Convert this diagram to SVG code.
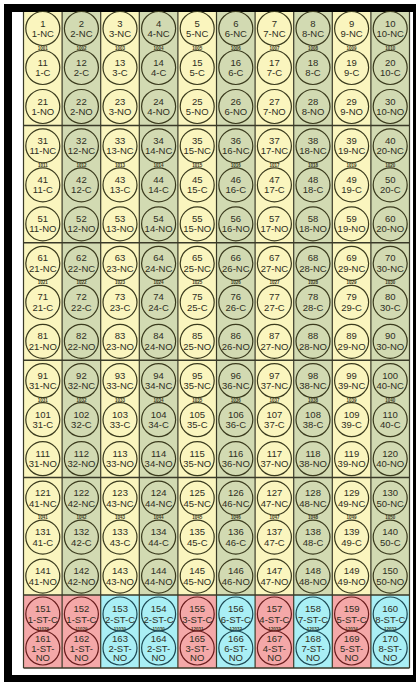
<svg xmlns="http://www.w3.org/2000/svg" width="420" height="684" viewBox="0 0 420 684">
<style>
.n circle{fill:none;stroke:#3b3b1e;stroke-width:1.2}
.n text{font-family:"Liberation Sans",Arial,sans-serif;font-size:9.5px;text-anchor:middle;fill:#2e2e22}
.p circle{stroke:#6a1e1e}
.q circle{stroke:#1e4a55}
.s{font-family:"Liberation Sans",Arial,sans-serif;font-size:4.5px;font-weight:bold;text-anchor:middle;fill:#3a3a22}
.y{fill:#faf5be}
.g{fill:#d2dab2}
.pk{fill:#f4a8a8}
.cy{fill:#a9eff5}
.vl{stroke:#3a3a28;stroke-width:1.2}
.hl{stroke:#3a3a28;stroke-width:1.5}
</style>
<rect x="4" y="4" width="412" height="678" fill="#000"/>
<rect x="12" y="12" width="401" height="663" fill="#fff"/>
<g id="table">
<rect class="y" x="23.5" y="12" width="38.6" height="583"/>
<rect class="g" x="62.1" y="12" width="38.6" height="583"/>
<rect class="y" x="100.7" y="12" width="38.6" height="583"/>
<rect class="g" x="139.3" y="12" width="38.6" height="583"/>
<rect class="y" x="177.9" y="12" width="38.6" height="583"/>
<rect class="g" x="216.5" y="12" width="38.6" height="583"/>
<rect class="y" x="255.1" y="12" width="38.6" height="583"/>
<rect class="g" x="293.7" y="12" width="38.6" height="583"/>
<rect class="y" x="332.3" y="12" width="38.6" height="583"/>
<rect class="g" x="370.9" y="12" width="38.6" height="583"/>
<rect class="pk" x="23.5" y="595" width="77.2" height="73"/>
<rect class="cy" x="100.7" y="595" width="77.2" height="73"/>
<rect class="pk" x="177.9" y="595" width="38.6" height="73"/>
<rect class="cy" x="216.5" y="595" width="38.6" height="73"/>
<rect class="pk" x="255.1" y="595" width="38.6" height="73"/>
<rect class="cy" x="293.7" y="595" width="38.6" height="73"/>
<rect class="pk" x="332.3" y="595" width="38.6" height="73"/>
<rect class="cy" x="370.9" y="595" width="38.6" height="73"/>
<g class="vl">
<line x1="23.5" y1="12" x2="23.5" y2="668"/>
<line x1="62.1" y1="12" x2="62.1" y2="668"/>
<line x1="100.7" y1="12" x2="100.7" y2="668"/>
<line x1="139.3" y1="12" x2="139.3" y2="668"/>
<line x1="177.9" y1="12" x2="177.9" y2="668"/>
<line x1="216.5" y1="12" x2="216.5" y2="668"/>
<line x1="255.1" y1="12" x2="255.1" y2="668"/>
<line x1="293.7" y1="12" x2="293.7" y2="668"/>
<line x1="332.3" y1="12" x2="332.3" y2="668"/>
<line x1="370.9" y1="12" x2="370.9" y2="668"/>
<line x1="409.5" y1="12" x2="409.5" y2="668"/>
</g>
<g class="hl">
<line x1="23.5" y1="125.4" x2="409.5" y2="125.4"/>
<line x1="23.5" y1="242.8" x2="409.5" y2="242.8"/>
<line x1="23.5" y1="360.2" x2="409.5" y2="360.2"/>
<line x1="23.5" y1="477.6" x2="409.5" y2="477.6"/>
<line x1="23.5" y1="595" x2="409.5" y2="595"/>
<line x1="23.5" y1="668" x2="409.5" y2="668"/>
</g>
</g>
<g id="connectors"/>
<g id="codes" class="s">
<text x="42.8" y="49.5">1001</text><text x="81.4" y="49.5">1002</text><text x="120" y="49.5">1003</text><text x="158.6" y="49.5">1004</text><text x="197.2" y="49.5">1005</text><text x="235.8" y="49.5">1006</text><text x="274.4" y="49.5">1007</text><text x="313" y="49.5">1008</text><text x="351.6" y="49.5">1009</text><text x="390.2" y="49.5">1010</text>
<text x="42.8" y="166.9">1011</text><text x="81.4" y="166.9">1012</text><text x="120" y="166.9">1013</text><text x="158.6" y="166.9">1014</text><text x="197.2" y="166.9">1015</text><text x="235.8" y="166.9">1016</text><text x="274.4" y="166.9">1017</text><text x="313" y="166.9">1018</text><text x="351.6" y="166.9">1019</text><text x="390.2" y="166.9">1020</text>
<text x="42.8" y="284.3">1021</text><text x="81.4" y="284.3">1022</text><text x="120" y="284.3">1023</text><text x="158.6" y="284.3">1024</text><text x="197.2" y="284.3">1025</text><text x="235.8" y="284.3">1026</text><text x="274.4" y="284.3">1027</text><text x="313" y="284.3">1028</text><text x="351.6" y="284.3">1029</text><text x="390.2" y="284.3">1030</text>
<text x="42.8" y="401.7">1031</text><text x="81.4" y="401.7">1032</text><text x="120" y="401.7">1033</text><text x="158.6" y="401.7">1034</text><text x="197.2" y="401.7">1035</text><text x="235.8" y="401.7">1036</text><text x="274.4" y="401.7">1037</text><text x="313" y="401.7">1038</text><text x="351.6" y="401.7">1039</text><text x="390.2" y="401.7">1040</text>
<text x="42.8" y="519.1">1041</text><text x="81.4" y="519.1">1042</text><text x="120" y="519.1">1043</text><text x="158.6" y="519.1">1044</text><text x="197.2" y="519.1">1045</text><text x="235.8" y="519.1">1046</text><text x="274.4" y="519.1">1047</text><text x="313" y="519.1">1048</text><text x="351.6" y="519.1">1049</text><text x="390.2" y="519.1">1050</text>
<text x="42.8" y="631.3">11029</text><text x="81.4" y="631.3">11029</text><text x="120" y="631.3">11030</text><text x="158.6" y="631.3">11030</text><text x="197.2" y="631.3">12031</text><text x="235.8" y="631.3">12032</text><text x="274.4" y="631.3">12033</text><text x="313" y="631.3">12032</text><text x="351.6" y="631.3">12034</text><text x="390.2" y="631.3">12032</text>
</g>
<g id="nodes">
<g id="n1" class="n" transform="translate(42.8,28.5)"><circle r="17"/><text y="-2">1</text><text y="8.5">1-NC</text></g>
<g id="n2" class="n" transform="translate(81.4,28.5)"><circle r="17"/><text y="-2">2</text><text y="8.5">2-NC</text></g>
<g id="n3" class="n" transform="translate(120,28.5)"><circle r="17"/><text y="-2">3</text><text y="8.5">3-NC</text></g>
<g id="n4" class="n" transform="translate(158.6,28.5)"><circle r="17"/><text y="-2">4</text><text y="8.5">4-NC</text></g>
<g id="n5" class="n" transform="translate(197.2,28.5)"><circle r="17"/><text y="-2">5</text><text y="8.5">5-NC</text></g>
<g id="n6" class="n" transform="translate(235.8,28.5)"><circle r="17"/><text y="-2">6</text><text y="8.5">6-NC</text></g>
<g id="n7" class="n" transform="translate(274.4,28.5)"><circle r="17"/><text y="-2">7</text><text y="8.5">7-NC</text></g>
<g id="n8" class="n" transform="translate(313,28.5)"><circle r="17"/><text y="-2">8</text><text y="8.5">8-NC</text></g>
<g id="n9" class="n" transform="translate(351.6,28.5)"><circle r="17"/><text y="-2">9</text><text y="8.5">9-NC</text></g>
<g id="n10" class="n" transform="translate(390.2,28.5)"><circle r="17"/><text y="-2">10</text><text y="8.5">10-NC</text></g>
<g id="n11" class="n" transform="translate(42.8,67.5)"><circle r="17"/><text y="-2">11</text><text y="8.5">1-C</text></g>
<g id="n12" class="n" transform="translate(81.4,67.5)"><circle r="17"/><text y="-2">12</text><text y="8.5">2-C</text></g>
<g id="n13" class="n" transform="translate(120,67.5)"><circle r="17"/><text y="-2">13</text><text y="8.5">3-C</text></g>
<g id="n14" class="n" transform="translate(158.6,67.5)"><circle r="17"/><text y="-2">14</text><text y="8.5">4-C</text></g>
<g id="n15" class="n" transform="translate(197.2,67.5)"><circle r="17"/><text y="-2">15</text><text y="8.5">5-C</text></g>
<g id="n16" class="n" transform="translate(235.8,67.5)"><circle r="17"/><text y="-2">16</text><text y="8.5">6-C</text></g>
<g id="n17" class="n" transform="translate(274.4,67.5)"><circle r="17"/><text y="-2">17</text><text y="8.5">7-C</text></g>
<g id="n18" class="n" transform="translate(313,67.5)"><circle r="17"/><text y="-2">18</text><text y="8.5">8-C</text></g>
<g id="n19" class="n" transform="translate(351.6,67.5)"><circle r="17"/><text y="-2">19</text><text y="8.5">9-C</text></g>
<g id="n20" class="n" transform="translate(390.2,67.5)"><circle r="17"/><text y="-2">20</text><text y="8.5">10-C</text></g>
<g id="n21" class="n" transform="translate(42.8,106.5)"><circle r="17"/><text y="-2">21</text><text y="8.5">1-NO</text></g>
<g id="n22" class="n" transform="translate(81.4,106.5)"><circle r="17"/><text y="-2">22</text><text y="8.5">2-NO</text></g>
<g id="n23" class="n" transform="translate(120,106.5)"><circle r="17"/><text y="-2">23</text><text y="8.5">3-NO</text></g>
<g id="n24" class="n" transform="translate(158.6,106.5)"><circle r="17"/><text y="-2">24</text><text y="8.5">4-NO</text></g>
<g id="n25" class="n" transform="translate(197.2,106.5)"><circle r="17"/><text y="-2">25</text><text y="8.5">5-NO</text></g>
<g id="n26" class="n" transform="translate(235.8,106.5)"><circle r="17"/><text y="-2">26</text><text y="8.5">6-NO</text></g>
<g id="n27" class="n" transform="translate(274.4,106.5)"><circle r="17"/><text y="-2">27</text><text y="8.5">7-NO</text></g>
<g id="n28" class="n" transform="translate(313,106.5)"><circle r="17"/><text y="-2">28</text><text y="8.5">8-NO</text></g>
<g id="n29" class="n" transform="translate(351.6,106.5)"><circle r="17"/><text y="-2">29</text><text y="8.5">9-NO</text></g>
<g id="n30" class="n" transform="translate(390.2,106.5)"><circle r="17"/><text y="-2">30</text><text y="8.5">10-NO</text></g>
<g id="n31" class="n" transform="translate(42.8,145.9)"><circle r="17"/><text y="-2">31</text><text y="8.5">11-NC</text></g>
<g id="n32" class="n" transform="translate(81.4,145.9)"><circle r="17"/><text y="-2">32</text><text y="8.5">12-NC</text></g>
<g id="n33" class="n" transform="translate(120,145.9)"><circle r="17"/><text y="-2">33</text><text y="8.5">13-NC</text></g>
<g id="n34" class="n" transform="translate(158.6,145.9)"><circle r="17"/><text y="-2">34</text><text y="8.5">14-NC</text></g>
<g id="n35" class="n" transform="translate(197.2,145.9)"><circle r="17"/><text y="-2">35</text><text y="8.5">15-NC</text></g>
<g id="n36" class="n" transform="translate(235.8,145.9)"><circle r="17"/><text y="-2">36</text><text y="8.5">16-NC</text></g>
<g id="n37" class="n" transform="translate(274.4,145.9)"><circle r="17"/><text y="-2">37</text><text y="8.5">17-NC</text></g>
<g id="n38" class="n" transform="translate(313,145.9)"><circle r="17"/><text y="-2">38</text><text y="8.5">18-NC</text></g>
<g id="n39" class="n" transform="translate(351.6,145.9)"><circle r="17"/><text y="-2">39</text><text y="8.5">19-NC</text></g>
<g id="n40" class="n" transform="translate(390.2,145.9)"><circle r="17"/><text y="-2">40</text><text y="8.5">20-NC</text></g>
<g id="n41" class="n" transform="translate(42.8,184.9)"><circle r="17"/><text y="-2">41</text><text y="8.5">11-C</text></g>
<g id="n42" class="n" transform="translate(81.4,184.9)"><circle r="17"/><text y="-2">42</text><text y="8.5">12-C</text></g>
<g id="n43" class="n" transform="translate(120,184.9)"><circle r="17"/><text y="-2">43</text><text y="8.5">13-C</text></g>
<g id="n44" class="n" transform="translate(158.6,184.9)"><circle r="17"/><text y="-2">44</text><text y="8.5">14-C</text></g>
<g id="n45" class="n" transform="translate(197.2,184.9)"><circle r="17"/><text y="-2">45</text><text y="8.5">15-C</text></g>
<g id="n46" class="n" transform="translate(235.8,184.9)"><circle r="17"/><text y="-2">46</text><text y="8.5">16-C</text></g>
<g id="n47" class="n" transform="translate(274.4,184.9)"><circle r="17"/><text y="-2">47</text><text y="8.5">17-C</text></g>
<g id="n48" class="n" transform="translate(313,184.9)"><circle r="17"/><text y="-2">48</text><text y="8.5">18-C</text></g>
<g id="n49" class="n" transform="translate(351.6,184.9)"><circle r="17"/><text y="-2">49</text><text y="8.5">19-C</text></g>
<g id="n50" class="n" transform="translate(390.2,184.9)"><circle r="17"/><text y="-2">50</text><text y="8.5">20-C</text></g>
<g id="n51" class="n" transform="translate(42.8,223.9)"><circle r="17"/><text y="-2">51</text><text y="8.5">11-NO</text></g>
<g id="n52" class="n" transform="translate(81.4,223.9)"><circle r="17"/><text y="-2">52</text><text y="8.5">12-NO</text></g>
<g id="n53" class="n" transform="translate(120,223.9)"><circle r="17"/><text y="-2">53</text><text y="8.5">13-NO</text></g>
<g id="n54" class="n" transform="translate(158.6,223.9)"><circle r="17"/><text y="-2">54</text><text y="8.5">14-NO</text></g>
<g id="n55" class="n" transform="translate(197.2,223.9)"><circle r="17"/><text y="-2">55</text><text y="8.5">15-NO</text></g>
<g id="n56" class="n" transform="translate(235.8,223.9)"><circle r="17"/><text y="-2">56</text><text y="8.5">16-NO</text></g>
<g id="n57" class="n" transform="translate(274.4,223.9)"><circle r="17"/><text y="-2">57</text><text y="8.5">17-NO</text></g>
<g id="n58" class="n" transform="translate(313,223.9)"><circle r="17"/><text y="-2">58</text><text y="8.5">18-NO</text></g>
<g id="n59" class="n" transform="translate(351.6,223.9)"><circle r="17"/><text y="-2">59</text><text y="8.5">19-NO</text></g>
<g id="n60" class="n" transform="translate(390.2,223.9)"><circle r="17"/><text y="-2">60</text><text y="8.5">20-NO</text></g>
<g id="n61" class="n" transform="translate(42.8,263.3)"><circle r="17"/><text y="-2">61</text><text y="8.5">21-NC</text></g>
<g id="n62" class="n" transform="translate(81.4,263.3)"><circle r="17"/><text y="-2">62</text><text y="8.5">22-NC</text></g>
<g id="n63" class="n" transform="translate(120,263.3)"><circle r="17"/><text y="-2">63</text><text y="8.5">23-NC</text></g>
<g id="n64" class="n" transform="translate(158.6,263.3)"><circle r="17"/><text y="-2">64</text><text y="8.5">24-NC</text></g>
<g id="n65" class="n" transform="translate(197.2,263.3)"><circle r="17"/><text y="-2">65</text><text y="8.5">25-NC</text></g>
<g id="n66" class="n" transform="translate(235.8,263.3)"><circle r="17"/><text y="-2">66</text><text y="8.5">26-NC</text></g>
<g id="n67" class="n" transform="translate(274.4,263.3)"><circle r="17"/><text y="-2">67</text><text y="8.5">27-NC</text></g>
<g id="n68" class="n" transform="translate(313,263.3)"><circle r="17"/><text y="-2">68</text><text y="8.5">28-NC</text></g>
<g id="n69" class="n" transform="translate(351.6,263.3)"><circle r="17"/><text y="-2">69</text><text y="8.5">29-NC</text></g>
<g id="n70" class="n" transform="translate(390.2,263.3)"><circle r="17"/><text y="-2">70</text><text y="8.5">30-NC</text></g>
<g id="n71" class="n" transform="translate(42.8,302.3)"><circle r="17"/><text y="-2">71</text><text y="8.5">21-C</text></g>
<g id="n72" class="n" transform="translate(81.4,302.3)"><circle r="17"/><text y="-2">72</text><text y="8.5">22-C</text></g>
<g id="n73" class="n" transform="translate(120,302.3)"><circle r="17"/><text y="-2">73</text><text y="8.5">23-C</text></g>
<g id="n74" class="n" transform="translate(158.6,302.3)"><circle r="17"/><text y="-2">74</text><text y="8.5">24-C</text></g>
<g id="n75" class="n" transform="translate(197.2,302.3)"><circle r="17"/><text y="-2">75</text><text y="8.5">25-C</text></g>
<g id="n76" class="n" transform="translate(235.8,302.3)"><circle r="17"/><text y="-2">76</text><text y="8.5">26-C</text></g>
<g id="n77" class="n" transform="translate(274.4,302.3)"><circle r="17"/><text y="-2">77</text><text y="8.5">27-C</text></g>
<g id="n78" class="n" transform="translate(313,302.3)"><circle r="17"/><text y="-2">78</text><text y="8.5">28-C</text></g>
<g id="n79" class="n" transform="translate(351.6,302.3)"><circle r="17"/><text y="-2">79</text><text y="8.5">29-C</text></g>
<g id="n80" class="n" transform="translate(390.2,302.3)"><circle r="17"/><text y="-2">80</text><text y="8.5">30-C</text></g>
<g id="n81" class="n" transform="translate(42.8,341.3)"><circle r="17"/><text y="-2">81</text><text y="8.5">21-NO</text></g>
<g id="n82" class="n" transform="translate(81.4,341.3)"><circle r="17"/><text y="-2">82</text><text y="8.5">22-NO</text></g>
<g id="n83" class="n" transform="translate(120,341.3)"><circle r="17"/><text y="-2">83</text><text y="8.5">23-NO</text></g>
<g id="n84" class="n" transform="translate(158.6,341.3)"><circle r="17"/><text y="-2">84</text><text y="8.5">24-NO</text></g>
<g id="n85" class="n" transform="translate(197.2,341.3)"><circle r="17"/><text y="-2">85</text><text y="8.5">25-NO</text></g>
<g id="n86" class="n" transform="translate(235.8,341.3)"><circle r="17"/><text y="-2">86</text><text y="8.5">26-NO</text></g>
<g id="n87" class="n" transform="translate(274.4,341.3)"><circle r="17"/><text y="-2">87</text><text y="8.5">27-NO</text></g>
<g id="n88" class="n" transform="translate(313,341.3)"><circle r="17"/><text y="-2">88</text><text y="8.5">28-NO</text></g>
<g id="n89" class="n" transform="translate(351.6,341.3)"><circle r="17"/><text y="-2">89</text><text y="8.5">29-NO</text></g>
<g id="n90" class="n" transform="translate(390.2,341.3)"><circle r="17"/><text y="-2">90</text><text y="8.5">30-NO</text></g>
<g id="n91" class="n" transform="translate(42.8,380.7)"><circle r="17"/><text y="-2">91</text><text y="8.5">31-NC</text></g>
<g id="n92" class="n" transform="translate(81.4,380.7)"><circle r="17"/><text y="-2">92</text><text y="8.5">32-NC</text></g>
<g id="n93" class="n" transform="translate(120,380.7)"><circle r="17"/><text y="-2">93</text><text y="8.5">33-NC</text></g>
<g id="n94" class="n" transform="translate(158.6,380.7)"><circle r="17"/><text y="-2">94</text><text y="8.5">34-NC</text></g>
<g id="n95" class="n" transform="translate(197.2,380.7)"><circle r="17"/><text y="-2">95</text><text y="8.5">35-NC</text></g>
<g id="n96" class="n" transform="translate(235.8,380.7)"><circle r="17"/><text y="-2">96</text><text y="8.5">36-NC</text></g>
<g id="n97" class="n" transform="translate(274.4,380.7)"><circle r="17"/><text y="-2">97</text><text y="8.5">37-NC</text></g>
<g id="n98" class="n" transform="translate(313,380.7)"><circle r="17"/><text y="-2">98</text><text y="8.5">38-NC</text></g>
<g id="n99" class="n" transform="translate(351.6,380.7)"><circle r="17"/><text y="-2">99</text><text y="8.5">39-NC</text></g>
<g id="n100" class="n" transform="translate(390.2,380.7)"><circle r="17"/><text y="-2">100</text><text y="8.5">40-NC</text></g>
<g id="n101" class="n" transform="translate(42.8,419.7)"><circle r="17"/><text y="-2">101</text><text y="8.5">31-C</text></g>
<g id="n102" class="n" transform="translate(81.4,419.7)"><circle r="17"/><text y="-2">102</text><text y="8.5">32-C</text></g>
<g id="n103" class="n" transform="translate(120,419.7)"><circle r="17"/><text y="-2">103</text><text y="8.5">33-C</text></g>
<g id="n104" class="n" transform="translate(158.6,419.7)"><circle r="17"/><text y="-2">104</text><text y="8.5">34-C</text></g>
<g id="n105" class="n" transform="translate(197.2,419.7)"><circle r="17"/><text y="-2">105</text><text y="8.5">35-C</text></g>
<g id="n106" class="n" transform="translate(235.8,419.7)"><circle r="17"/><text y="-2">106</text><text y="8.5">36-C</text></g>
<g id="n107" class="n" transform="translate(274.4,419.7)"><circle r="17"/><text y="-2">107</text><text y="8.5">37-C</text></g>
<g id="n108" class="n" transform="translate(313,419.7)"><circle r="17"/><text y="-2">108</text><text y="8.5">38-C</text></g>
<g id="n109" class="n" transform="translate(351.6,419.7)"><circle r="17"/><text y="-2">109</text><text y="8.5">39-C</text></g>
<g id="n110" class="n" transform="translate(390.2,419.7)"><circle r="17"/><text y="-2">110</text><text y="8.5">40-C</text></g>
<g id="n111" class="n" transform="translate(42.8,458.7)"><circle r="17"/><text y="-2">111</text><text y="8.5">31-NO</text></g>
<g id="n112" class="n" transform="translate(81.4,458.7)"><circle r="17"/><text y="-2">112</text><text y="8.5">32-NO</text></g>
<g id="n113" class="n" transform="translate(120,458.7)"><circle r="17"/><text y="-2">113</text><text y="8.5">33-NO</text></g>
<g id="n114" class="n" transform="translate(158.6,458.7)"><circle r="17"/><text y="-2">114</text><text y="8.5">34-NO</text></g>
<g id="n115" class="n" transform="translate(197.2,458.7)"><circle r="17"/><text y="-2">115</text><text y="8.5">35-NO</text></g>
<g id="n116" class="n" transform="translate(235.8,458.7)"><circle r="17"/><text y="-2">116</text><text y="8.5">36-NO</text></g>
<g id="n117" class="n" transform="translate(274.4,458.7)"><circle r="17"/><text y="-2">117</text><text y="8.5">37-NO</text></g>
<g id="n118" class="n" transform="translate(313,458.7)"><circle r="17"/><text y="-2">118</text><text y="8.5">38-NO</text></g>
<g id="n119" class="n" transform="translate(351.6,458.7)"><circle r="17"/><text y="-2">119</text><text y="8.5">39-NO</text></g>
<g id="n120" class="n" transform="translate(390.2,458.7)"><circle r="17"/><text y="-2">120</text><text y="8.5">40-NO</text></g>
<g id="n121" class="n" transform="translate(42.8,498.1)"><circle r="17"/><text y="-2">121</text><text y="8.5">41-NC</text></g>
<g id="n122" class="n" transform="translate(81.4,498.1)"><circle r="17"/><text y="-2">122</text><text y="8.5">42-NC</text></g>
<g id="n123" class="n" transform="translate(120,498.1)"><circle r="17"/><text y="-2">123</text><text y="8.5">43-NC</text></g>
<g id="n124" class="n" transform="translate(158.6,498.1)"><circle r="17"/><text y="-2">124</text><text y="8.5">44-NC</text></g>
<g id="n125" class="n" transform="translate(197.2,498.1)"><circle r="17"/><text y="-2">125</text><text y="8.5">45-NC</text></g>
<g id="n126" class="n" transform="translate(235.8,498.1)"><circle r="17"/><text y="-2">126</text><text y="8.5">46-NC</text></g>
<g id="n127" class="n" transform="translate(274.4,498.1)"><circle r="17"/><text y="-2">127</text><text y="8.5">47-NC</text></g>
<g id="n128" class="n" transform="translate(313,498.1)"><circle r="17"/><text y="-2">128</text><text y="8.5">48-NC</text></g>
<g id="n129" class="n" transform="translate(351.6,498.1)"><circle r="17"/><text y="-2">129</text><text y="8.5">49-NC</text></g>
<g id="n130" class="n" transform="translate(390.2,498.1)"><circle r="17"/><text y="-2">130</text><text y="8.5">50-NC</text></g>
<g id="n131" class="n" transform="translate(42.8,537.1)"><circle r="17"/><text y="-2">131</text><text y="8.5">41-C</text></g>
<g id="n132" class="n" transform="translate(81.4,537.1)"><circle r="17"/><text y="-2">132</text><text y="8.5">42-C</text></g>
<g id="n133" class="n" transform="translate(120,537.1)"><circle r="17"/><text y="-2">133</text><text y="8.5">43-C</text></g>
<g id="n134" class="n" transform="translate(158.6,537.1)"><circle r="17"/><text y="-2">134</text><text y="8.5">44-C</text></g>
<g id="n135" class="n" transform="translate(197.2,537.1)"><circle r="17"/><text y="-2">135</text><text y="8.5">45-C</text></g>
<g id="n136" class="n" transform="translate(235.8,537.1)"><circle r="17"/><text y="-2">136</text><text y="8.5">46-C</text></g>
<g id="n137" class="n" transform="translate(274.4,537.1)"><circle r="17"/><text y="-2">137</text><text y="8.5">47-C</text></g>
<g id="n138" class="n" transform="translate(313,537.1)"><circle r="17"/><text y="-2">138</text><text y="8.5">48-C</text></g>
<g id="n139" class="n" transform="translate(351.6,537.1)"><circle r="17"/><text y="-2">139</text><text y="8.5">49-C</text></g>
<g id="n140" class="n" transform="translate(390.2,537.1)"><circle r="17"/><text y="-2">140</text><text y="8.5">50-C</text></g>
<g id="n141" class="n" transform="translate(42.8,576.1)"><circle r="17"/><text y="-2">141</text><text y="8.5">41-NO</text></g>
<g id="n142" class="n" transform="translate(81.4,576.1)"><circle r="17"/><text y="-2">142</text><text y="8.5">42-NO</text></g>
<g id="n143" class="n" transform="translate(120,576.1)"><circle r="17"/><text y="-2">143</text><text y="8.5">43-NO</text></g>
<g id="n144" class="n" transform="translate(158.6,576.1)"><circle r="17"/><text y="-2">144</text><text y="8.5">44-NO</text></g>
<g id="n145" class="n" transform="translate(197.2,576.1)"><circle r="17"/><text y="-2">145</text><text y="8.5">45-NO</text></g>
<g id="n146" class="n" transform="translate(235.8,576.1)"><circle r="17"/><text y="-2">146</text><text y="8.5">46-NO</text></g>
<g id="n147" class="n" transform="translate(274.4,576.1)"><circle r="17"/><text y="-2">147</text><text y="8.5">47-NO</text></g>
<g id="n148" class="n" transform="translate(313,576.1)"><circle r="17"/><text y="-2">148</text><text y="8.5">48-NO</text></g>
<g id="n149" class="n" transform="translate(351.6,576.1)"><circle r="17"/><text y="-2">149</text><text y="8.5">49-NO</text></g>
<g id="n150" class="n" transform="translate(390.2,576.1)"><circle r="17"/><text y="-2">150</text><text y="8.5">50-NO</text></g>
<g id="n151" class="n p" transform="translate(42.8,614)"><circle r="17"/><text y="-2">151</text><text y="8.5">1-ST-C</text></g>
<g id="n152" class="n p" transform="translate(81.4,614)"><circle r="17"/><text y="-2">152</text><text y="8.5">1-ST-C</text></g>
<g id="n153" class="n q" transform="translate(120,614)"><circle r="17"/><text y="-2">153</text><text y="8.5">2-ST-C</text></g>
<g id="n154" class="n q" transform="translate(158.6,614)"><circle r="17"/><text y="-2">154</text><text y="8.5">2-ST-C</text></g>
<g id="n155" class="n p" transform="translate(197.2,614)"><circle r="17"/><text y="-2">155</text><text y="8.5">3-ST-C</text></g>
<g id="n156" class="n q" transform="translate(235.8,614)"><circle r="17"/><text y="-2">156</text><text y="8.5">6-ST-C</text></g>
<g id="n157" class="n p" transform="translate(274.4,614)"><circle r="17"/><text y="-2">157</text><text y="8.5">4-ST-C</text></g>
<g id="n158" class="n q" transform="translate(313,614)"><circle r="17"/><text y="-2">158</text><text y="8.5">7-ST-C</text></g>
<g id="n159" class="n p" transform="translate(351.6,614)"><circle r="17"/><text y="-2">159</text><text y="8.5">5-ST-C</text></g>
<g id="n160" class="n q" transform="translate(390.2,614)"><circle r="17"/><text y="-2">160</text><text y="8.5">8-ST-C</text></g>
<g id="n161" class="n p" transform="translate(42.8,648)"><circle r="17"/><text y="-6">161</text><text y="3.7">1-ST-</text><text y="13.4">NO</text></g>
<g id="n162" class="n p" transform="translate(81.4,648)"><circle r="17"/><text y="-6">162</text><text y="3.7">1-ST-</text><text y="13.4">NO</text></g>
<g id="n163" class="n q" transform="translate(120,648)"><circle r="17"/><text y="-6">163</text><text y="3.7">2-ST-</text><text y="13.4">NO</text></g>
<g id="n164" class="n q" transform="translate(158.6,648)"><circle r="17"/><text y="-6">164</text><text y="3.7">2-ST-</text><text y="13.4">NO</text></g>
<g id="n165" class="n p" transform="translate(197.2,648)"><circle r="17"/><text y="-6">165</text><text y="3.7">3-ST-</text><text y="13.4">NO</text></g>
<g id="n166" class="n q" transform="translate(235.8,648)"><circle r="17"/><text y="-6">166</text><text y="3.7">6-ST-</text><text y="13.4">NO</text></g>
<g id="n167" class="n p" transform="translate(274.4,648)"><circle r="17"/><text y="-6">167</text><text y="3.7">4-ST-</text><text y="13.4">NO</text></g>
<g id="n168" class="n q" transform="translate(313,648)"><circle r="17"/><text y="-6">168</text><text y="3.7">7-ST-</text><text y="13.4">NO</text></g>
<g id="n169" class="n p" transform="translate(351.6,648)"><circle r="17"/><text y="-6">169</text><text y="3.7">5-ST-</text><text y="13.4">NO</text></g>
<g id="n170" class="n q" transform="translate(390.2,648)"><circle r="17"/><text y="-6">170</text><text y="3.7">8-ST-</text><text y="13.4">NO</text></g>
</g>
</svg>
